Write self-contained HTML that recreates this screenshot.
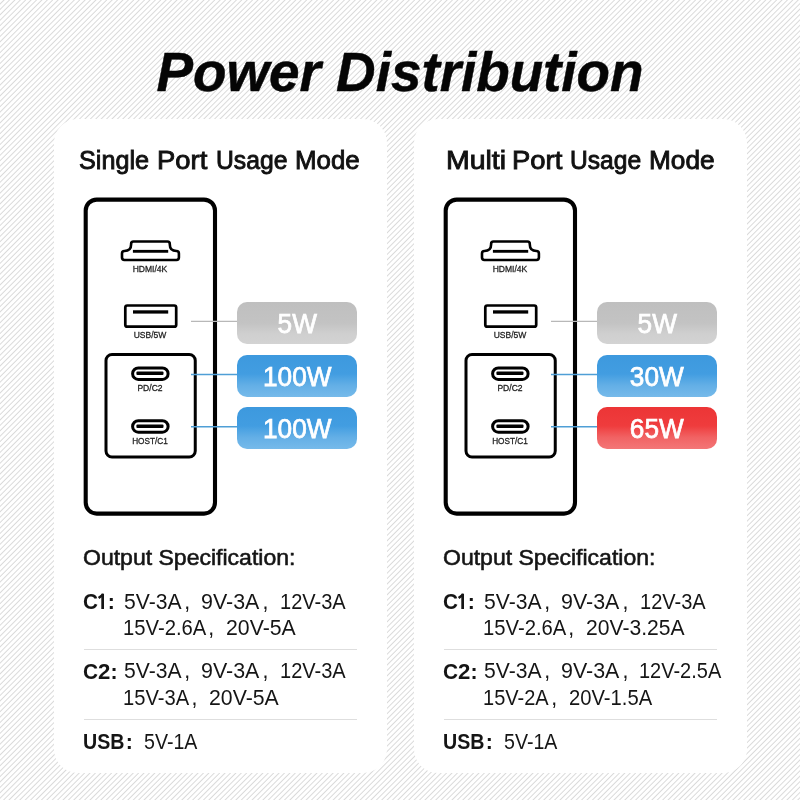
<!DOCTYPE html>
<html><head><meta charset="utf-8">
<style>
html,body{margin:0;padding:0;}
body{width:800px;height:800px;position:relative;overflow:hidden;font-family:"Liberation Sans",sans-serif;color:#111;
background:#fff repeating-linear-gradient(135deg,#ffffff 0px,#ffffff 1.9px,#dbdbdb 2.85px,#dbdbdb 2.95px,#ffffff 3.82px);}
.abs{position:absolute;white-space:pre;}
.card{position:absolute;top:119px;width:333px;height:653.5px;background:#fff;border-radius:24px;}
.title{will-change:transform;left:0;width:800px;text-align:center;top:45.1px;font-size:54.8px;line-height:54.8px;font-weight:bold;font-style:italic;color:#050505;-webkit-text-stroke:0.5px #050505;}
.grp{position:absolute;left:0;top:0;width:800px;height:800px;will-change:transform;}
.head{font-size:26.2px;line-height:26.2px;-webkit-text-stroke:0.9px #111;transform-origin:0 0;}
.lbl{left:100.2px;width:100px;text-align:center;font-size:9.7px;line-height:9.7px;-webkit-text-stroke:0.3px #222;color:#222;transform:scaleX(0.88);}
.badge{position:absolute;left:237px;width:119.6px;height:42px;border-radius:10px;color:#fff;text-align:center;font-size:27px;line-height:44.4px;-webkit-text-stroke:0.75px #fff;}
.gray{background:linear-gradient(#bfbfbf 0%,#c3c3c3 50%,#cfcfcf 75%,#d3d3d3 100%);}
.blue{background:linear-gradient(#3d99de 0%,#429de1 45%,#63afe6 72%,#76baea 100%);}
.red{background:linear-gradient(#ec3536 0%,#ef3c3d 45%,#f16263 72%,#f37677 100%);}
.spec{font-size:21.3px;line-height:21.3px;color:#151515;transform-origin:0 0;}
.b{-webkit-text-stroke:0.55px #151515;}
.bold{font-weight:bold;}
.b7{-webkit-text-stroke:0.75px #151515;}
.sep{position:absolute;left:84px;width:273px;height:1.3px;background:#dedede;}
</style></head><body>
<div class="abs title">Power Distribution</div>
<div class="card" style="left:53.5px"></div>
<div class="card" style="left:413.5px"></div>
<div class="grp">
<div class="abs head" style="left:79.14px;top:147.38px;transform:scaleX(0.9620);">Single</div>
<div class="abs head" style="left:157.15px;top:147.38px;transform:scaleX(1.0461);">Port</div>
<div class="abs head" style="left:216.07px;top:147.38px;transform:scaleX(0.9432);">Usage</div>
<div class="abs head" style="left:295.48px;top:147.38px;transform:scaleX(0.9863);">Mode</div>

  <svg class="abs" style="left:0;top:0" width="400" height="800" viewBox="0 0 400 800">
    <rect x="85.7" y="199.6" width="129.3" height="314" rx="11" fill="none" stroke="#000" stroke-width="4.1"/>
    <path d="M133.5,241.5 H167.4 Q169.8,241.5 169.8,243.9 V244.5 Q169.8,251 176.5,251 Q178.9,251 178.9,253.4 V257.6 Q178.9,260 176.5,260 H124.4 Q122,260 122,257.6 V253.4 Q122,251 124.4,251 Q131.1,251 131.1,244.5 V243.9 Q131.1,241.5 133.5,241.5 Z" fill="none" stroke="#000" stroke-width="2.6"/>
    <rect x="132.9" y="249.9" width="35.3" height="2.85" fill="#000"/>
    <rect x="125.3" y="305.5" width="50.9" height="21.2" rx="2" fill="none" stroke="#000" stroke-width="2.7"/>
    <rect x="133" y="310.3" width="35.2" height="3.3" fill="#000"/>
    <rect x="106" y="354.5" width="89.25" height="102.5" rx="6" fill="none" stroke="#000" stroke-width="3"/>
    <rect x="132.6" y="367.9" width="35.5" height="11.5" rx="5.75" fill="none" stroke="#000" stroke-width="3"/>
    <rect x="136.4" y="371.6" width="27.1" height="3.5" rx="1" fill="#000"/>
    <rect x="132.6" y="420.7" width="35.5" height="11.5" rx="5.75" fill="none" stroke="#000" stroke-width="3"/>
    <rect x="136.4" y="424.4" width="27.1" height="3.5" rx="1" fill="#000"/>
    <line x1="191" y1="321.4" x2="238" y2="321.4" stroke="#b8b8b8" stroke-width="1.3"/>
    <line x1="191" y1="374.4" x2="238" y2="374.4" stroke="#4f9fd6" stroke-width="1.5"/>
    <line x1="191" y1="426.8" x2="238" y2="426.8" stroke="#4f9fd6" stroke-width="1.5"/>
  </svg>
  <div class="abs lbl" style="top:264.3px">HDMI/4K</div>
  <div class="abs lbl" style="top:330px">USB/5W</div>
  <div class="abs lbl" style="top:383.4px">PD/C2</div>
  <div class="abs lbl" style="top:435.6px;transform:scaleX(0.85)">HOST/C1</div>
  <div class="badge gray" style="top:302px"><span style="display:inline-block;transform:scaleX(0.97)">5W</span></div>
  <div class="badge blue" style="top:354.6px"><span style="display:inline-block;transform:scaleX(0.97)">100W</span></div>
  <div class="badge blue" style="top:407.2px"><span style="display:inline-block;transform:scaleX(0.97)">100W</span></div>

<div class="abs spec b" style="left:82.74px;top:548.40px;transform:scaleX(1.0810);">Output Specification:</div>
<div class="abs spec bold" style="left:82.88px;top:592.20px;transform:scaleX(0.9757);">C</div>
<svg class="abs" style="left:0;top:0" width="400" height="800" viewBox="0 0 400 800"><path d="M103.4,594.5 L98.6,598.1" fill="none" stroke="#151515" stroke-width="2.5"/><rect x="101.3" y="593.7" width="2.7" height="15.3" fill="#151515"/></svg>
<div class="abs spec bold" style="left:107.71px;top:592.20px;transform:scaleX(1.0000);">:</div>
<div class="abs spec" style="left:123.56px;top:591.60px;transform:scaleX(0.9908);">5V-3A</div>
<div class="abs spec" style="left:201.41px;top:591.60px;transform:scaleX(1.0062);">9V-3A</div>
<div class="abs spec" style="left:279.58px;top:591.60px;transform:scaleX(0.9406);">12V-3A</div>
<div class="abs spec" style="left:184.28px;top:591.60px">,</div>
<div class="abs spec" style="left:262.43px;top:591.60px">,</div>
<div class="abs spec" style="left:122.96px;top:617.80px;transform:scaleX(0.9509);">15V-2.6A</div>
<div class="abs spec" style="left:226.04px;top:617.80px;transform:scaleX(0.9985);">20V-5A</div>
<div class="abs spec" style="left:208.33px;top:617.80px">,</div>
<div class="sep" style="top:648.7px"></div>
<div class="abs spec bold" style="left:82.62px;top:661.70px;transform:scaleX(0.9793);">C</div>
<div class="abs spec bold" style="left:97.65px;top:661.70px;transform:scaleX(1.0422);">2</div>
<div class="abs spec bold" style="left:110.46px;top:661.70px;transform:scaleX(1.0000);">:</div>
<div class="abs spec" style="left:123.56px;top:661.10px;transform:scaleX(0.9908);">5V-3A</div>
<div class="abs spec" style="left:201.41px;top:661.10px;transform:scaleX(1.0062);">9V-3A</div>
<div class="abs spec" style="left:279.58px;top:661.10px;transform:scaleX(0.9406);">12V-3A</div>
<div class="abs spec" style="left:184.28px;top:661.10px">,</div>
<div class="abs spec" style="left:262.43px;top:661.10px">,</div>
<div class="abs spec" style="left:122.87px;top:687.50px;transform:scaleX(0.9472);">15V-3A</div>
<div class="abs spec" style="left:209.34px;top:687.50px;transform:scaleX(0.9985);">20V-5A</div>
<div class="abs spec" style="left:191.58px;top:687.50px">,</div>
<div class="sep" style="top:719.2px"></div>
<div class="abs spec bold" style="left:82.72px;top:732.40px;transform:scaleX(0.9221);">USB</div>
<div class="abs spec bold" style="left:125.86px;top:732.40px;transform:scaleX(1.0000);">:</div>
<div class="abs spec" style="left:143.62px;top:731.80px;transform:scaleX(0.9208);">5V-1A</div>

</div>
<div class="grp" style="left:360px">
<div class="abs head" style="left:85.57px;top:147.38px;transform:scaleX(1.0865);">Multi</div>
<div class="abs head" style="left:151.75px;top:147.38px;transform:scaleX(1.0483);">Port</div>
<div class="abs head" style="left:210.48px;top:147.38px;transform:scaleX(0.9404);">Usage</div>
<div class="abs head" style="left:289.45px;top:147.38px;transform:scaleX(1.0024);">Mode</div>

  <svg class="abs" style="left:0;top:0" width="400" height="800" viewBox="0 0 400 800">
    <rect x="85.7" y="199.6" width="129.3" height="314" rx="11" fill="none" stroke="#000" stroke-width="4.1"/>
    <path d="M133.5,241.5 H167.4 Q169.8,241.5 169.8,243.9 V244.5 Q169.8,251 176.5,251 Q178.9,251 178.9,253.4 V257.6 Q178.9,260 176.5,260 H124.4 Q122,260 122,257.6 V253.4 Q122,251 124.4,251 Q131.1,251 131.1,244.5 V243.9 Q131.1,241.5 133.5,241.5 Z" fill="none" stroke="#000" stroke-width="2.6"/>
    <rect x="132.9" y="249.9" width="35.3" height="2.85" fill="#000"/>
    <rect x="125.3" y="305.5" width="50.9" height="21.2" rx="2" fill="none" stroke="#000" stroke-width="2.7"/>
    <rect x="133" y="310.3" width="35.2" height="3.3" fill="#000"/>
    <rect x="106" y="354.5" width="89.25" height="102.5" rx="6" fill="none" stroke="#000" stroke-width="3"/>
    <rect x="132.6" y="367.9" width="35.5" height="11.5" rx="5.75" fill="none" stroke="#000" stroke-width="3"/>
    <rect x="136.4" y="371.6" width="27.1" height="3.5" rx="1" fill="#000"/>
    <rect x="132.6" y="420.7" width="35.5" height="11.5" rx="5.75" fill="none" stroke="#000" stroke-width="3"/>
    <rect x="136.4" y="424.4" width="27.1" height="3.5" rx="1" fill="#000"/>
    <line x1="191" y1="321.4" x2="238" y2="321.4" stroke="#b8b8b8" stroke-width="1.3"/>
    <line x1="191" y1="374.4" x2="238" y2="374.4" stroke="#4f9fd6" stroke-width="1.5"/>
    <line x1="191" y1="426.8" x2="238" y2="426.8" stroke="#4f9fd6" stroke-width="1.5"/>
  </svg>
  <div class="abs lbl" style="top:264.3px">HDMI/4K</div>
  <div class="abs lbl" style="top:330px">USB/5W</div>
  <div class="abs lbl" style="top:383.4px">PD/C2</div>
  <div class="abs lbl" style="top:435.6px;transform:scaleX(0.85)">HOST/C1</div>
  <div class="badge gray" style="top:302px"><span style="display:inline-block;transform:scaleX(0.97)">5W</span></div>
  <div class="badge blue" style="top:354.6px"><span style="display:inline-block;transform:scaleX(0.97)">30W</span></div>
  <div class="badge red" style="top:407.2px"><span style="display:inline-block;transform:scaleX(0.97)">65W</span></div>

<div class="abs spec b" style="left:82.74px;top:548.40px;transform:scaleX(1.0810);">Output Specification:</div>
<div class="abs spec bold" style="left:82.88px;top:592.20px;transform:scaleX(0.9757);">C</div>
<svg class="abs" style="left:0;top:0" width="400" height="800" viewBox="0 0 400 800"><path d="M103.4,594.5 L98.6,598.1" fill="none" stroke="#151515" stroke-width="2.5"/><rect x="101.3" y="593.7" width="2.7" height="15.3" fill="#151515"/></svg>
<div class="abs spec bold" style="left:107.71px;top:592.20px;transform:scaleX(1.0000);">:</div>
<div class="abs spec" style="left:123.56px;top:591.60px;transform:scaleX(0.9908);">5V-3A</div>
<div class="abs spec" style="left:201.41px;top:591.60px;transform:scaleX(1.0062);">9V-3A</div>
<div class="abs spec" style="left:279.58px;top:591.60px;transform:scaleX(0.9406);">12V-3A</div>
<div class="abs spec" style="left:184.28px;top:591.60px">,</div>
<div class="abs spec" style="left:262.43px;top:591.60px">,</div>
<div class="abs spec" style="left:122.96px;top:617.80px;transform:scaleX(0.9509);">15V-2.6A</div>
<div class="abs spec" style="left:226.14px;top:617.80px;transform:scaleX(0.9912);">20V-3.25A</div>
<div class="abs spec" style="left:208.33px;top:617.80px">,</div>
<div class="sep" style="top:648.7px"></div>
<div class="abs spec bold" style="left:82.62px;top:661.70px;transform:scaleX(0.9793);">C</div>
<div class="abs spec bold" style="left:97.65px;top:661.70px;transform:scaleX(1.0422);">2</div>
<div class="abs spec bold" style="left:110.46px;top:661.70px;transform:scaleX(1.0000);">:</div>
<div class="abs spec" style="left:123.56px;top:661.10px;transform:scaleX(0.9908);">5V-3A</div>
<div class="abs spec" style="left:201.41px;top:661.10px;transform:scaleX(1.0062);">9V-3A</div>
<div class="abs spec" style="left:279.38px;top:661.10px;transform:scaleX(0.9387);">12V-2.5A</div>
<div class="abs spec" style="left:184.28px;top:661.10px">,</div>
<div class="abs spec" style="left:262.43px;top:661.10px">,</div>
<div class="abs spec" style="left:122.98px;top:687.50px;transform:scaleX(0.9398);">15V-2A</div>
<div class="abs spec" style="left:208.99px;top:687.50px;transform:scaleX(0.9489);">20V-1.5A</div>
<div class="abs spec" style="left:191.18px;top:687.50px">,</div>
<div class="sep" style="top:719.2px"></div>
<div class="abs spec bold" style="left:82.72px;top:732.40px;transform:scaleX(0.9221);">USB</div>
<div class="abs spec bold" style="left:125.86px;top:732.40px;transform:scaleX(1.0000);">:</div>
<div class="abs spec" style="left:143.62px;top:731.80px;transform:scaleX(0.9208);">5V-1A</div>

</div>
</body></html>
